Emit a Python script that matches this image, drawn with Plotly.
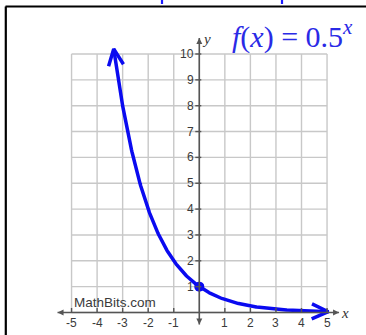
import numpy as np
import plotly.graph_objects as go

# ---- data -------------------------------------------------------------
base = 0.5                      # f(x) = 0.5^x
x_ticks = [-5, -4, -3, -2, -1, 0, 1, 2, 3, 4, 5]
x_tick_labels = ["-5", "-4", "-3", "-2", "-1", "", "1", "2", "3", "4", "5"]
y_ticks = [0, 1, 2, 3, 4, 5, 6, 7, 8, 9, 10]
y_tick_labels = ["", "1", "2", "3", "4", "5", "6", "7", "8", "9", "10"]
curve_x_start, curve_x_end = -3.35, 5.05
point_x, point_y = [0], [1]

# ---- canvas / scale ---------------------------------------------------
W, H = 366, 335
ORIGIN_X_PX, PX_PER_X = 199.3, 25.55
ORIGIN_Y_PX, PX_PER_Y = 312.5, 25.85
x_range = [-ORIGIN_X_PX / PX_PER_X, (W - ORIGIN_X_PX) / PX_PER_X]
y_range = [-(H - ORIGIN_Y_PX) / PX_PER_Y, ORIGIN_Y_PX / PX_PER_Y]


def dx(px):
    """pixel offset -> x data units"""
    return px / PX_PER_X


def dy(px):
    """pixel offset -> y data units"""
    return px / PX_PER_Y


BLUE = "#0a0af0"
AXIS = "#555555"
GRID = "#c8c8c8"
LABEL = "#3a3a3a"

fig = go.Figure()
shapes = []

# grid
for xv in x_ticks:
    shapes.append(dict(type="line", x0=xv, x1=xv, y0=y_ticks[0], y1=y_ticks[-1],
                       line=dict(color=GRID, width=1.4), layer="below"))
for yv in y_ticks:
    shapes.append(dict(type="line", x0=x_ticks[0], x1=x_ticks[-1], y0=yv, y1=yv,
                       line=dict(color=GRID, width=1.4), layer="below"))

# axis lines
x_axis_lo, x_axis_hi = x_ticks[0] - dx(14), x_ticks[-1] + dx(12)
y_axis_lo, y_axis_hi = -dy(12), y_ticks[-1] + dy(16)
shapes.append(dict(type="line", x0=x_axis_lo, x1=x_axis_hi, y0=0, y1=0,
                   line=dict(color=AXIS, width=1.6)))
shapes.append(dict(type="line", x0=0, x1=0, y0=y_axis_lo, y1=y_axis_hi,
                   line=dict(color=AXIS, width=1.6)))

# tick marks
for xv, lab in zip(x_ticks, x_tick_labels):
    if lab:
        shapes.append(dict(type="line", x0=xv, x1=xv, y0=0, y1=dy(4.5),
                           line=dict(color=AXIS, width=1.4)))
for yv, lab in zip(y_ticks, y_tick_labels):
    if lab:
        shapes.append(dict(type="line", x0=-dx(4), x1=dx(2), y0=yv, y1=yv,
                           line=dict(color=AXIS, width=1.4)))

# outer frame (top and left edges)
shapes.append(dict(type="line", xref="paper", yref="paper", x0=5.5 / W, x1=1, y0=1 - 6.5 / H, y1=1 - 6.5 / H,
                   line=dict(color="black", width=2)))
shapes.append(dict(type="line", xref="paper", yref="paper", x0=5.8 / W, x1=5.8 / W, y0=0, y1=1 - 6.5 / H,
                   line=dict(color="black", width=2.2)))
# link descenders peeking in above the frame
for px in (162, 282):
    shapes.append(dict(type="line", xref="paper", yref="paper", x0=px / W, x1=px / W, y0=1, y1=1 - 4 / H,
                       line=dict(color="#1a1aff", width=2.2)))

# axis arrowheads (plotly arrow symbols have their tip on the point)
fig.add_trace(go.Scatter(
    x=[x_axis_hi, x_axis_lo, 0, 0], y=[0, 0, y_axis_hi, y_axis_lo], mode="markers",
    marker=dict(symbol=["arrow-right", "arrow-left", "arrow-up", "arrow-down"],
                size=6, color=AXIS, line=dict(width=0)),
    hoverinfo="skip"))

# curve
xs = np.linspace(curve_x_start, curve_x_end, 400)
ys = base ** xs
fig.add_trace(go.Scatter(x=xs, y=ys, mode="lines", line=dict(color=BLUE, width=3.5),
                         hoverinfo="skip"))


def chevron(xt, yt, xp, yp, length=16.5, half=7.5):
    """open arrowhead at (xt, yt) pointing away from (xp, yp)"""
    ux, uy = (xt - xp) * PX_PER_X, (yt - yp) * PX_PER_Y
    n = np.hypot(ux, uy)
    ux, uy = ux / n, uy / n
    nx, ny = -uy, ux
    a = (xt + dx(-length * ux + half * nx), yt + dy(-length * uy + half * ny))
    b = (xt + dx(-length * ux - half * nx), yt + dy(-length * uy - half * ny))
    return [a[0], xt, b[0]], [a[1], yt, b[1]]


for (xt, yt, xp, yp) in [(xs[0], ys[0], xs[1], ys[1]), (xs[-1], ys[-1], xs[-2], ys[-2])]:
    cx, cy = chevron(xt, yt, xp, yp)
    fig.add_trace(go.Scatter(x=cx, y=cy, mode="lines",
                             line=dict(color=BLUE, width=3.5), hoverinfo="skip"))

# y-intercept point
fig.add_trace(go.Scatter(x=point_x, y=point_y, mode="markers",
                         marker=dict(color=BLUE, size=10), hoverinfo="skip"))

annotations = []
# tick labels
for xv, lab in zip(x_ticks, x_tick_labels):
    if lab:
        annotations.append(dict(x=xv, y=-dy(10.5), text=lab, showarrow=False, xanchor="center",
                                yanchor="middle", font=dict(family="Liberation Sans", size=12, color=LABEL)))
for yv, lab in zip(y_ticks, y_tick_labels):
    if lab:
        annotations.append(dict(x=-dx(3), y=yv, text=lab, showarrow=False, xanchor="right",
                                yanchor="middle", font=dict(family="Liberation Sans", size=12, color=LABEL)))

# axis names
annotations.append(dict(x=dx(7), y=y_ticks[-1] + dy(15), text="<i>y</i>", showarrow=False,
                        font=dict(family="Liberation Serif", size=15, color="#333333")))
annotations.append(dict(x=x_ticks[-1] + dx(18), y=0, text="<i>x</i>", showarrow=False,
                        font=dict(family="Liberation Serif", size=15, color="#333333")))

# watermark
annotations.append(dict(x=x_ticks[0], y=dy(10), text="MathBits.com", showarrow=False, xanchor="left",
                        yanchor="middle", font=dict(family="Liberation Sans", size=13.5, color=LABEL)))

# function label
annotations.append(dict(x=1.21, y=y_ticks[-1] + dy(20),
                        text="<i>f</i>(<i>x</i>) = 0.5<sup><i>x</i></sup>",
                        showarrow=False, xanchor="left", yanchor="middle",
                        font=dict(family="Liberation Serif", size=30, color="#2a2ae6")))

fig.update_layout(
    width=W, height=H, autosize=False,
    margin=dict(l=0, r=0, t=0, b=0, pad=0),
    paper_bgcolor="white", plot_bgcolor="white",
    showlegend=False,
    xaxis=dict(range=x_range, visible=False, fixedrange=True),
    yaxis=dict(range=y_range, visible=False, fixedrange=True),
    shapes=shapes, annotations=annotations,
)

fig.write_html("out.html", config=dict(displayModeBar=False))
